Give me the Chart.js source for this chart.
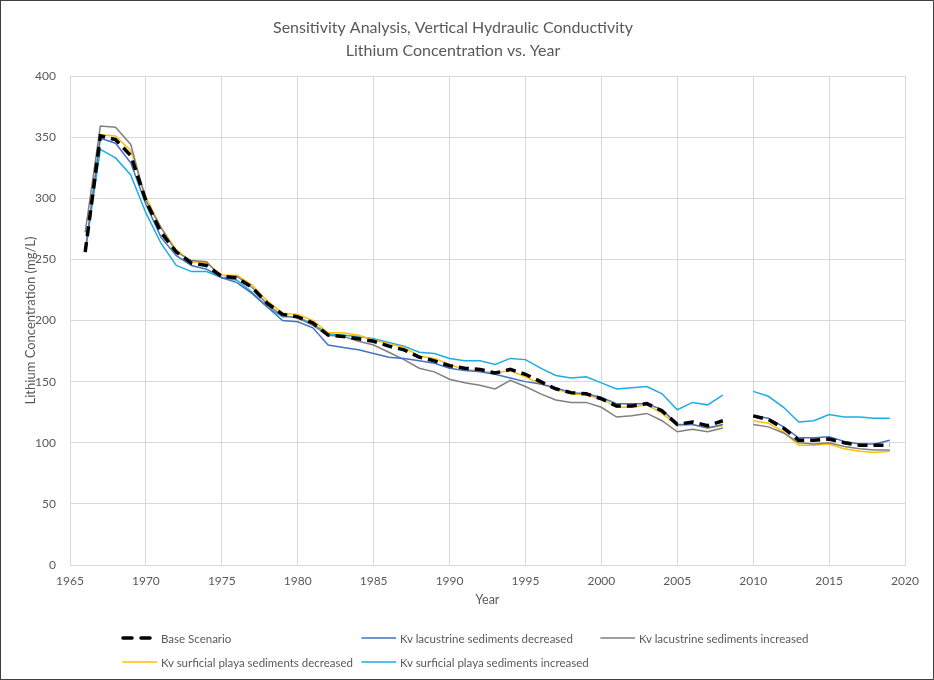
<!DOCTYPE html>
<html>
<head>
<meta charset="utf-8">
<script src="https://cdn.jsdelivr.net/npm/chart.js@4/dist/chart.umd.min.js"></script>
<style>
  body { margin: 0; background: #fff; }
  #wrap { position: relative; width: 934px; height: 680px; box-sizing: border-box; border: 1px solid #404040; background: #fff; }
  #grafico { position: absolute; left: 0; top: 0; }
  #leyenda { position: absolute; left: 120px; top: 625px; display: grid; grid-template-columns: 239px 239px 239px; grid-auto-rows: 24px;
             font-family: Lato, "Open Sans", sans-serif; font-size: 11.5px; color: #595959; }
  #leyenda .item { display: flex; align-items: center; white-space: nowrap; }
  #leyenda svg { margin-right: 4px; }
</style>
</head>
<body>
<div id="wrap">
  <canvas id="grafico" width="932" height="678"></canvas>
  <div id="leyenda"></div>
</div>
<script>
// Años (1966-2019, sin dato en 2009)
const years = [
  1966, 1967, 1968, 1969, 1970, 1971, 1972, 1973, 1974, 1975,
  1976, 1977, 1978, 1979, 1980, 1981, 1982, 1983, 1984, 1985,
  1986, 1987, 1988, 1989, 1990, 1991, 1992, 1993, 1994, 1995,
  1996, 1997, 1998, 1999, 2000, 2001, 2002, 2003, 2004, 2005,
  2006, 2007, 2008, 2009, 2010, 2011, 2012, 2013, 2014, 2015,
  2016, 2017, 2018, 2019
];

const baseScenario = [
  256, 351, 348, 335, 298, 272, 256, 247, 245, 236,
  235, 227, 214, 205, 203, 198, 188, 187, 185, 183,
  179, 176, 170, 167, 163, 161, 160, 157, 160, 156,
  150, 144, 141, 140, 136, 130, 130, 132, 126, 115,
  117, 114, 118, null, 122, 119, 112, 102, 102, 103,
  100, 98, 98, 98
];

const lacustrineDecreased = [
  256, 349, 345, 329, 295, 268, 253, 245, 242, 235,
  231, 222, 211, 200, 199, 194, 180, 178, 176, 173,
  170, 169, 167, 165, 161, 159, 158, 156, 153, 150,
  148, 145, 141, 140, 137, 132, 132, 132, 127, 115,
  115, 112, 115, null, 122, 120, 113, 104, 104, 105,
  101, 99, 99, 102
];

const lacustrineIncreased = [
  272, 359, 358, 344, 298, 276, 256, 249, 248, 235,
  236, 227, 213, 204, 202, 196, 188, 187, 183, 180,
  174, 168, 161, 158, 152, 149, 147, 144, 151, 146,
  140, 135, 133, 133, 129, 121, 122, 124, 118, 109,
  111, 109, 112, null, 115, 113, 108, 100, 99, 100,
  97, 95, 94, 94
];

const playaDecreased = [
  256, 352, 351, 339, 301, 276, 258, 248, 247, 237,
  237, 229, 216, 206, 205, 200, 190, 190, 188, 184,
  181, 178, 171, 169, 164, 160, 159, 157, 159, 154,
  148, 144, 140, 139, 136, 129, 129, 131, 124, 114,
  115, 112, 114, null, 118, 116, 109, 98, 98, 99,
  95, 93, 92, 93
];

const playaIncreased = [
  256, 340, 333, 319, 288, 263, 245, 240, 240, 235,
  233, 223, 211, 203, 203, 197, 189, 188, 187, 185,
  182, 179, 174, 173, 169, 167, 167, 164, 169, 168,
  161, 155, 153, 154, 149, 144, 145, 146, 140, 127,
  133, 131, 139, null, 142, 138, 129, 117, 118, 123,
  121, 121, 120, 120
];

const textColor = "#595959";
const gridColor = "#d9d9d9";
const fontFamily = "Lato, 'Open Sans', sans-serif";

function puntos(valores) {
  return years.map((yr, i) => ({ x: yr, y: valores[i] }));
}

function serie(label, valores, color, width, dash) {
  return {
    label: label,
    data: puntos(valores),
    borderColor: color,
    backgroundColor: color,
    borderWidth: width,
    borderDash: dash || [],
    pointRadius: 0,
    tension: 0,
    spanGaps: false
  };
}

const ctx = document.getElementById("grafico").getContext("2d");

const grafico = new Chart(ctx, {
  type: "line",
  data: {
    datasets: [
      serie("Base Scenario", baseScenario, "#000000", 3.5, [10, 6]),
      serie("Kv lacustrine sediments decreased", lacustrineDecreased, "#4472c4", 1.5),
      serie("Kv lacustrine sediments increased", lacustrineIncreased, "#808080", 1.5),
      serie("Kv surficial playa sediments decreased", playaDecreased, "#ffc000", 1.5),
      serie("Kv surficial playa sediments increased", playaIncreased, "#1cade4", 1.5)
    ]
  },
  options: {
    responsive: false,
    animation: false,
    layout: { padding: { left: 0, right: 28, top: 0, bottom: 69 } },
    plugins: {
      legend: { display: false },
      tooltip: { enabled: false },
      title: {
        display: true,
        text: ["Sensitivity Analysis, Vertical Hydraulic Conductivity", "Lithium Concentration vs. Year"],
        color: textColor,
        font: { family: fontFamily, size: 16, weight: "normal", lineHeight: 1.45 },
        padding: { top: 15, bottom: 13.6 }
      }
    },
    scales: {
      x: {
        type: "linear",
        min: 1965,
        max: 2020,
        afterFit: (scale) => { scale.height = 45; },
        ticks: {
          stepSize: 5,
          color: textColor,
          padding: 9,
          font: { family: fontFamily, size: 12 },
          callback: (v) => String(v)
        },
        grid: { color: gridColor, drawTicks: false, lineWidth: 1 },
        border: { color: gridColor },
        title: {
          display: true,
          text: "Year",
          color: textColor,
          font: { family: fontFamily, size: 12.5, lineHeight: 1.2 },
          padding: { top: 0, bottom: 3 }
        }
      },
      y: {
        min: 0,
        max: 400,
        afterFit: (scale) => { scale.width = 69; },
        ticks: {
          stepSize: 50,
          color: textColor,
          padding: 14,
          font: { family: fontFamily, size: 12 }
        },
        grid: { color: gridColor, drawTicks: false, lineWidth: 1 },
        border: { color: gridColor },
        title: {
          display: true,
          text: "Lithium Concentration (mg/L)",
          color: textColor,
          font: { family: fontFamily, size: 13, lineHeight: 1.2 },
          padding: { top: 22, bottom: 0 }
        }
      }
    }
  }
});

// Leyenda en HTML a partir de los datasets
const leyenda = document.getElementById("leyenda");
grafico.data.datasets.forEach((ds) => {
  const item = document.createElement("div");
  item.className = "item";
  const dash = ds.borderDash.length ? "9,9" : "none";
  item.innerHTML = `
    <svg width="36" height="8"><line x1="2" y1="4" x2="36" y2="4" stroke="${ds.borderColor}"
      stroke-width="${ds.borderWidth}" stroke-dasharray="${dash}" stroke-linecap="round" /></svg>
    <span>${ds.label}</span>
  `;
  leyenda.appendChild(item);
});
</script>
</body>
</html>
